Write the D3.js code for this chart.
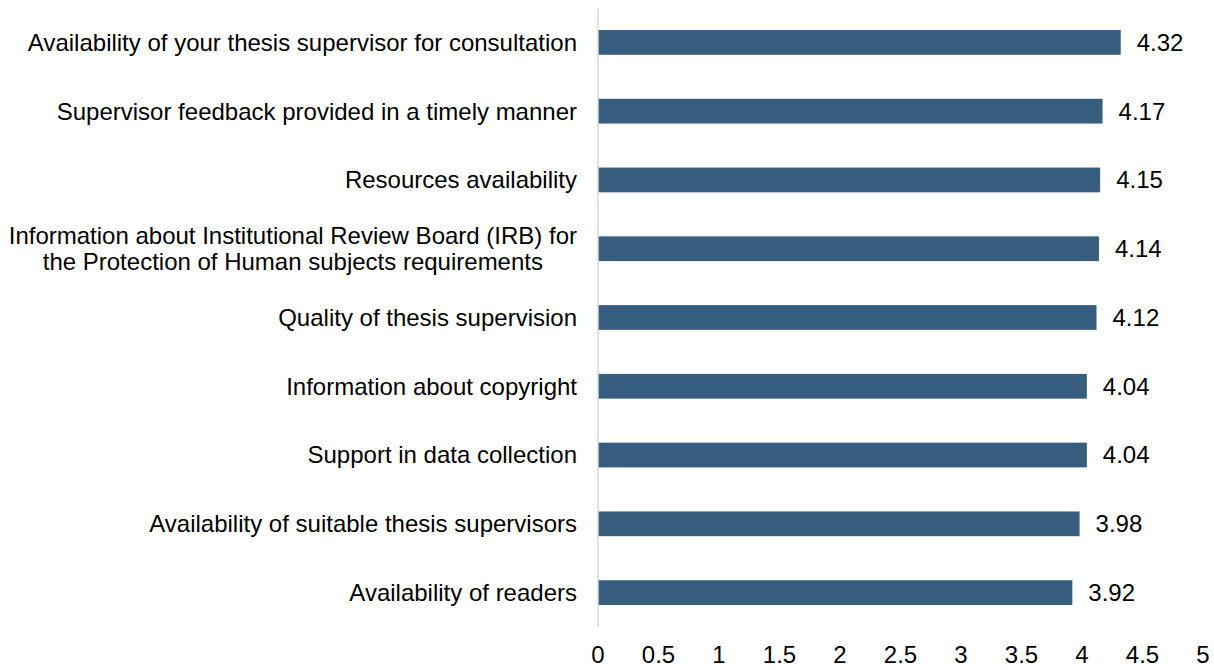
<!DOCTYPE html>
<html>
<head>
<meta charset="utf-8">
<script src="https://cdn.jsdelivr.net/npm/d3@7"></script>
<style>
  body { margin: 0; background: #fff; }
  text { font-family: Arial, "Liberation Sans", sans-serif; fill: #000; }
</style>
</head>
<body>
<div id="chart"></div>
<script>
// Survey items, top to bottom
const categories = [
    ['Availability of your thesis supervisor for consultation'],
    ['Supervisor feedback provided in a timely manner'],
    ['Resources availability'],
    ['Information about Institutional Review Board (IRB) for', 'the Protection of Human subjects requirements'],
    ['Quality of thesis supervision'],
    ['Information about copyright'],
    ['Support in data collection'],
    ['Availability of suitable thesis supervisors'],
    ['Availability of readers']
];
const values = [4.32, 4.17, 4.15, 4.14, 4.12, 4.04, 4.04, 3.98, 3.92];
const ticks = [0, 0.5, 1, 1.5, 2, 2.5, 3, 3.5, 4, 4.5, 5];

const width = 1214;
const height = 670;
const margin = { top: 8, right: 11, bottom: 43, left: 598 };
const fontSize = 24;

const svg = d3.select('#chart')
    .append('svg')
    .attr('width', width)
    .attr('height', height);

const x = d3.scaleLinear()
    .domain([0, 5])
    .range([margin.left, width - margin.right]);

const y = d3.scaleBand()
    .domain(d3.range(categories.length))
    .range([margin.top, height - margin.bottom])
    .paddingInner(0.64)
    .paddingOuter(0.32);

// Bars
svg.append('g')
    .selectAll('rect')
    .data(values)
    .join('rect')
    .attr('x', x(0))
    .attr('y', (d, i) => y(i))
    .attr('width', d => x(d) - x(0))
    .attr('height', y.bandwidth())
    .attr('fill', '#375e7e');

// Value labels
svg.append('g')
    .selectAll('text')
    .data(values)
    .join('text')
    .attr('x', d => x(d) + 16)
    .attr('y', (d, i) => y(i) + y.bandwidth() / 2)
    .attr('dy', '0.35em')
    .attr('font-size', fontSize + 'px')
    .text(d => d.toFixed(2));

// Vertical axis line
svg.append('line')
    .attr('x1', x(0))
    .attr('x2', x(0))
    .attr('y1', margin.top)
    .attr('y2', height - margin.bottom)
    .attr('stroke', '#d9d9d9')
    .attr('stroke-width', 1.5);

// Category labels (multi-line blocks right aligned, lines centred)
const labelRight = x(0) - 21;
const lineH = 26;
const labels = svg.append('g')
    .selectAll('text')
    .data(categories)
    .join('text')
    .attr('font-size', fontSize + 'px')
    .attr('text-anchor', 'end');

labels.each(function(lines, i) {
    const t = d3.select(this);
    const cy = y(i) + y.bandwidth() / 2;
    lines.forEach((line, k) => {
        t.append('tspan')
            .attr('x', labelRight)
            .attr('y', cy + (k - (lines.length - 1) / 2) * lineH)
            .attr('dy', '0.35em')
            .text(line);
    });
    if (lines.length > 1) {
        const spans = t.selectAll('tspan');
        const maxW = d3.max(spans.nodes(), n => n.getComputedTextLength());
        t.attr('text-anchor', 'middle');
        spans.attr('x', labelRight - maxW / 2);
    }
});

// X axis tick labels
svg.append('g')
    .selectAll('text')
    .data(ticks)
    .join('text')
    .attr('x', d => x(d))
    .attr('y', 663)
    .attr('text-anchor', 'middle')
    .attr('font-size', fontSize + 'px')
    .text(d => d);
</script>
</body>
</html>
